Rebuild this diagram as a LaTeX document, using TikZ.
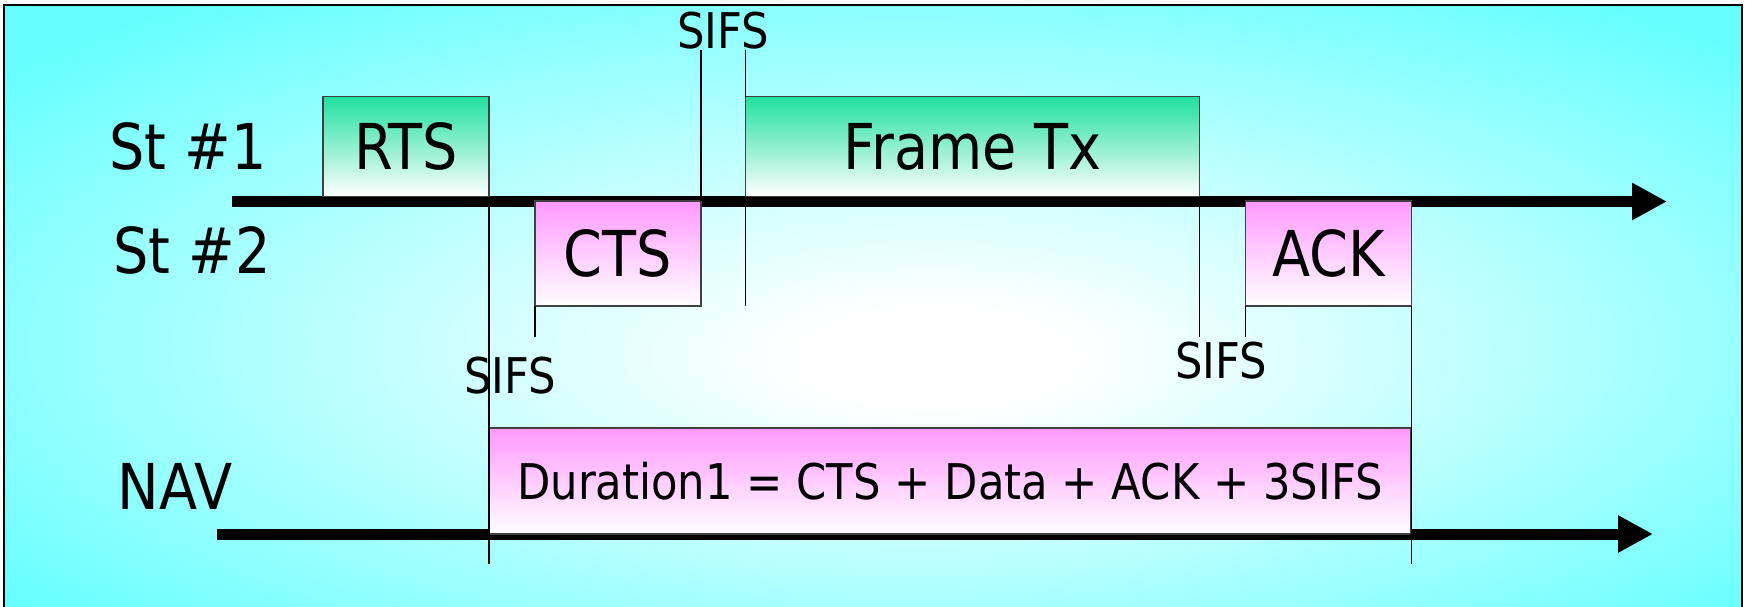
\documentclass[tikz,border=0pt]{standalone}
\usepackage{fontspec}
\setmainfont{DejaVu Sans}[FakeStretch=0.88]
\usetikzlibrary{arrows.meta,positioning,shapes}

\definecolor{bgcyan}{RGB}{102,255,255}
\definecolor{txgreen}{RGB}{32,224,160}
\definecolor{ctspink}{RGB}{255,153,255}
\pgfdeclareradialshading{bgglow}{\pgfpoint{2bp}{-3bp}}{color(0bp)=(white); color(4bp)=(white); color(33bp)=(bgcyan); color(50bp)=(bgcyan)}

\begin{document}
\begin{tikzpicture}[thin,>={Triangle[length=0.35cm,width=0.35cm]}]
\tikzstyle{frame}=[draw=black!75,line width=0.5pt,minimum width=1.66cm,minimum height=1.05cm,inner sep=0pt,outer sep=0pt,font=\fontsize{18}{22}\selectfont]
\tikzstyle{st1 box}=[frame,top color=txgreen,bottom color=white]
\tikzstyle{st2 box}=[frame,top color=ctspink,bottom color=white]
\tikzstyle{station}=[font=\fontsize{18}{22}\selectfont,inner sep=0pt]
\tikzstyle{sifs}=[font=\fontsize{14}{17}\selectfont,inner sep=0pt]
\tikzstyle{axis}=[->,line width=0.11cm]
\tikzstyle{tick}=[line width=0.5pt]

\useasboundingbox (0,0) rectangle (17.46,-6.06);
\shadedraw[shading=bgglow,draw=black,line width=0.8pt] (0.04,-0.05) rectangle (17.42,-6.4);

% time axes
\coordinate (S1) at (2.32,-2.015);
\coordinate (S1end) at (16.67,-2.015);
\coordinate (S2) at (2.17,-5.34);
\coordinate (S2end) at (16.53,-5.34);
\draw[axis] (S1) -- (S1end);
\draw[axis] (S2) -- (S2end);

% frames
\node[st1 box,minimum height=1.0cm] (RTS) at (4.06,-1.465) {RTS};
\node[st2 box] (CTS) [below right=0.045cm and 0.46cm of RTS.south east] {CTS};
\node[st1 box,minimum width=4.54cm,minimum height=1.0cm] (TX) [above right=0.045cm and 0.445cm of CTS.north east] {Frame Tx};
\node[st2 box] (ACK) [below right=0.045cm and 0.46cm of TX.south east] {ACK};
\node[st2 box,minimum width=9.22cm,minimum height=1.06cm,font=\fontsize{14}{17}\selectfont,anchor=south west] (NAV) at (RTS.east |- S2) {Duration1 = CTS + Data + ACK + 3SIFS};

% stations
\node[station] (L1) [left of=RTS,node distance=2.18cm] {St \#1};
\node[station] (L2) [below of=L1,node distance=1.04cm,xshift=0.04cm] {St \#2};
\node[station] (L3) [below of=L2,node distance=2.36cm,xshift=-0.17cm] {NAV};

% SIFS gaps
\coordinate (top) at (0,-0.50);
\coordinate (low) at (0,-3.37);
\coordinate (bottom) at (0,-5.64);
\draw[tick] (CTS.north east) -- (CTS.north east |- top);
\draw[tick] (TX.north west) -- (TX.north west |- top);
\draw[tick] (TX.south west) -- (TX.south west |- CTS.south);
\draw[tick] (RTS.south east) -- (RTS.south east |- bottom);
\draw[tick] (CTS.south west) -- (CTS.south west |- low);
\draw[tick] (TX.south east) -- (TX.south east |- low);
\draw[tick] (ACK.south west) -- (ACK.south west |- low);
\draw[tick] (ACK.south east) -- (ACK.south east |- bottom);

\node[sifs] (G1) at (7.23,-0.31) {SIFS};
\node[sifs] (G2) at (5.10,-3.76) {SIFS};
\node[sifs] (G3) at (12.21,-3.61) {SIFS};
\end{tikzpicture}
\end{document}
